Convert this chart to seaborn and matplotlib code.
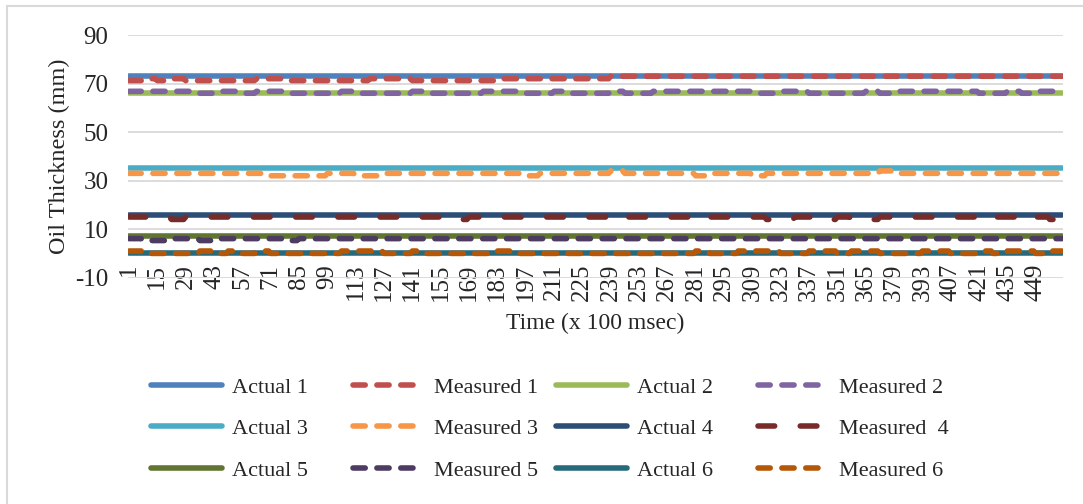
import numpy as np
import pandas as pd
import seaborn as sns
import matplotlib
matplotlib.use("Agg")
import matplotlib.pyplot as plt
from matplotlib.lines import Line2D

# ---------------- data ----------------
n_samples = 462                      # time samples (x 100 msec)
block = 7                            # each measured value below covers 7 samples
time = list(range(1, n_samples + 1))
x_tick_labels = list(range(1, 450, 14))   # 1, 15, 29, ... 449

actual_1 = [73] * n_samples
actual_2 = [66] * n_samples
actual_3 = [35] * n_samples
actual_4 = [16] * n_samples
actual_5 = [7] * n_samples
actual_6 = [0] * n_samples

measured_1 = [71.2, 72, 71.2, 72, 71.2, 71.2, 71.2, 71.2, 71.2, 72, 72, 71.2, 71.2,
              71.2, 71.2, 71.2, 71.2, 72, 72, 72, 71.2, 71.2, 71.2, 71.2, 71.2, 71.2,
              72, 72, 72, 72, 72, 72, 72, 72, 73, 73, 73, 73, 73,
              73, 73, 73, 73, 73, 73, 73, 73, 73, 73, 73, 73, 73,
              73, 73, 73, 73, 73, 73, 73, 73, 73, 73, 73, 73, 73, 73]
measured_2 = [66.8, 66.8, 66.8, 66.8, 66.8, 66, 66.8, 66.8, 66, 66.8, 66.8, 66, 66,
              66, 66, 66.8, 66, 66, 66, 66, 66.8, 66, 66, 66, 66, 66.8,
              66.8, 66.8, 66, 66, 66.8, 66, 66, 66, 66.8, 66, 66, 66.8, 66.8,
              66.8, 66.8, 66.8, 66.8, 66.8, 66, 66, 66.8, 66.8, 66, 66, 66, 66,
              66.8, 66, 66.8, 66.8, 66.8, 66.8, 66.8, 66.8, 66, 66, 66.8, 66, 66.8, 66.8]
measured_3 = [33, 33, 33, 33, 33, 33, 33, 33, 33, 33, 32, 32, 32,
              32, 33, 33, 32, 32, 33, 33, 33, 33, 33, 33, 33, 33,
              33, 33, 32, 33, 33, 33, 33, 33, 34, 33, 33, 33, 33,
              33, 32, 33, 33, 33, 32, 33, 33, 33, 33, 33, 33, 33,
              33, 34, 33, 33, 33, 33, 33, 33, 33, 33, 33, 33, 33, 33]
measured_4 = [15, 15, 15, 14, 15, 15, 15, 15, 15, 15, 15, 15, 15,
              15, 15, 15, 15, 15, 15, 15, 15, 15, 15, 14, 15, 15,
              15, 15, 15, 15, 15, 15, 15, 15, 14, 15, 15, 15, 15,
              15, 14, 15, 15, 15, 15, 14, 14, 15, 15, 14, 15, 14,
              14, 15, 15, 15, 15, 15, 15, 15, 14, 15, 15, 14, 15, 14]
measured_5 = [6.1, 5.3, 5.3, 6.1, 6.1, 5.3, 6.1, 6.1, 6.1, 6.1, 6.1, 5.3, 6.1,
              6.1, 6.1, 6.1, 6.1, 6.1, 6.1, 6.1, 6.1, 6.1, 6.1, 6.1, 6.1, 6.1,
              6.1, 6.1, 6.1, 6.1, 6.1, 6.1, 6.1, 6.1, 6.1, 6.1, 6.1, 6.1, 6.1,
              6.1, 6.1, 6.1, 6.1, 6.1, 6.1, 6.1, 6.1, 6.1, 6.1, 6.1, 6.1, 6.1,
              6.1, 6.1, 6.1, 6.1, 6.1, 6.1, 6.1, 6.1, 6.1, 6.1, 6.1, 6.1, 6.1, 6.1]
measured_6 = [1, 0, 0, 0, 0, 1, 0, 1, 0, 1, 0, 0, 0,
              0, 0, 1, 1, 1, 0, 0, 1, 0, 0, 0, 0, 0,
              1, 0, 0, 0, 0, 0, 0, 0, 0, 0, 0, 0, 0,
              0, 1, 0, 0, 1, 1, 1, 0, 0, 1, 1, 0, 1,
              1, 0, 0, 0, 1, 1, 0, 0, 1, 0, 1, 1, 0, 1]

series_names = ["Actual 1", "Measured 1", "Actual 2", "Measured 2",
                "Actual 3", "Measured 3", "Actual 4", "Measured  4",
                "Actual 5", "Measured 5", "Actual 6", "Measured 6"]
series_values = [actual_1, np.repeat(measured_1, block),
                 actual_2, np.repeat(measured_2, block),
                 actual_3, np.repeat(measured_3, block),
                 actual_4, np.repeat(measured_4, block),
                 actual_5, np.repeat(measured_5, block),
                 actual_6, np.repeat(measured_6, block)]

# ---------------- styles ----------------
colors = ["#4F81BD", "#C0504D", "#9BBB59", "#8064A2",
          "#4BACC6", "#F79646", "#2C4D75", "#772C2A",
          "#5F7530", "#4D3B62", "#276A7C", "#B65708"]
dash_short = (0, (2.2, 2.1))
dash_long = (0, (3.0, 4.6))
styles = ["-", dash_short, "-", dash_short, "-", dash_short,
          "-", dash_long, "-", dash_short, "-", dash_short]
LW = 4.0

sns.set_theme(style="white")
plt.rcParams["font.family"] = ["Liberation Serif", "DejaVu Serif"]
plt.rcParams["axes.unicode_minus"] = False

W, H = 1083, 504
fig = plt.figure(figsize=(W / 100, H / 100), dpi=100)
ax_l, ax_r, ax_t, ax_b = 128, 1063, 35, 277.7
ax = fig.add_axes([ax_l / W, 1 - ax_b / H, (ax_r - ax_l) / W, (ax_b - ax_t) / H])

for name, vals, c, ls in zip(series_names, series_values, colors, styles):
    df = pd.DataFrame({"t": time, "v": vals})
    sns.lineplot(data=df, x="t", y="v", ax=ax, color=c, linewidth=LW,
                 linestyle=ls, estimator=None, sort=False, legend=False,
                 solid_capstyle="round", dash_capstyle="round")

ax.set_xlim(0.5, n_samples + 0.5)
ax.set_ylim(-10, 90)
ax.set_yticks([-10, 10, 30, 50, 70, 90])
ax.set_xticks(x_tick_labels)
ax.set_xticklabels([str(v) for v in x_tick_labels], rotation=90, fontsize=18)
ax.tick_params(axis="y", labelsize=18, length=0, pad=14)
ax.tick_params(axis="x", length=0, pad=-10)
ax.grid(axis="y", color="#d9d9d9", linewidth=1.3)
ax.grid(axis="x", visible=False)
ax.set_axisbelow(True)
for s in ax.spines.values():
    s.set_visible(False)
ax.set_xlabel("Time (x 100 msec)", fontsize=17, labelpad=8)
ax.set_ylabel("Oil Thickness (mm)", fontsize=17.5, labelpad=4)

# ---------------- legend (4 fixed columns, 3 rows) ----------------
handles = [Line2D([], [], color=c, linewidth=LW, linestyle=ls,
                  solid_capstyle="round", dash_capstyle="round")
           for c, ls in zip(colors, styles)]
col_x = [151, 353, 556, 758]
for col in range(4):
    idx = [col, col + 4, col + 8]
    leg = fig.legend([handles[i] for i in idx], [series_names[i] for i in idx],
                     loc="upper left", bbox_to_anchor=(col_x[col] / W, 1 - 377 / H),
                     frameon=False, fontsize=16, handlelength=3.2,
                     handletextpad=0.45, labelspacing=0.95, borderpad=0,
                     borderaxespad=0)

# outer chart border (left and top edges visible)
fig.add_artist(Line2D([7 / W, 7 / W], [0, 1 - 6 / H], color="#d9d9d9", linewidth=1.5))
fig.add_artist(Line2D([7 / W, 1], [1 - 6 / H, 1 - 6 / H], color="#d9d9d9", linewidth=1.5))

fig.savefig("out.png", dpi=100)
